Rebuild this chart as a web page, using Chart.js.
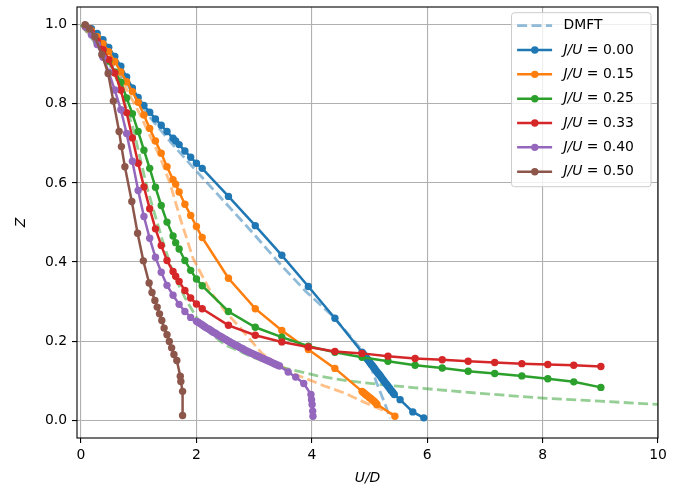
<!DOCTYPE html>
<html>
<head>
<meta charset="utf-8">
<script src="https://cdn.jsdelivr.net/npm/chart.js@4.4.0/dist/chart.umd.min.js"></script>
<style>
  body { margin: 0; background: #fff; }
</style>
</head>
<body>
<canvas id="graphCanvas" width="700" height="491"></canvas>
<script>
// values (x = U/D, y = Z)
var xTicks = [0, 2, 4, 6, 8, 10];
var yTicks = [0.0, 0.2, 0.4, 0.6, 0.8, 1.0];

var dmft0X = [0, 0.4, 0.8, 1.2, 1.6, 2.0, 2.5, 3.0, 3.45, 3.9, 4.37, 4.84, 5.0, 5.13, 5.25, 5.36];
var dmft0Z = [1.0, 0.925, 0.85, 0.765, 0.695, 0.63, 0.55, 0.47, 0.395, 0.325, 0.262, 0.182, 0.145, 0.092, 0.048, 0.005];

var dmft15X = [0, 0.5, 1.0, 1.37, 1.54, 1.72, 1.94, 2.24, 2.5, 2.78, 3.14, 3.66, 4.23, 4.58, 4.84, 5.2, 5.5];
var dmft15Z = [1.0, 0.915, 0.78, 0.665, 0.6, 0.51, 0.41, 0.326, 0.275, 0.23, 0.168, 0.119, 0.086, 0.068, 0.05, 0.027, 0.01];

var dmft25X = [0, 0.3, 0.6, 0.9, 1.15, 1.4, 1.6, 1.8, 2.0, 2.2, 2.5, 3.0, 3.5, 4.1, 4.6, 5.2, 5.8, 6.9, 8.0, 9.0, 10.0];
var dmft25Z = [1.0, 0.955, 0.87, 0.74, 0.585, 0.46, 0.37, 0.31, 0.26, 0.225, 0.19, 0.158, 0.133, 0.112, 0.1, 0.09, 0.082, 0.068, 0.056, 0.048, 0.040];

var j00X = [0.08, 0.18, 0.28, 0.38, 0.48, 0.585, 0.69, 0.79, 0.89, 0.99, 1.09, 1.19, 1.29, 1.39, 1.49, 1.595, 1.64, 1.70, 1.80, 1.90, 2.00, 2.10,
            2.555, 3.02, 3.48, 3.94, 4.40, 4.87,
            4.89, 4.91, 4.93, 4.95, 4.97, 4.99, 5.01, 5.03, 5.05, 5.07, 5.09, 5.11, 5.13, 5.15,
            5.17, 5.19, 5.21, 5.23, 5.25, 5.27, 5.29, 5.31, 5.33, 5.35, 5.37, 5.39, 5.41, 5.43,
            5.53, 5.75, 5.94];
var j00Z = [0.998, 0.99, 0.978, 0.962, 0.943, 0.92, 0.895, 0.868, 0.84, 0.816, 0.796, 0.779, 0.762, 0.746, 0.73, 0.713, 0.706, 0.697, 0.681, 0.665, 0.65, 0.637,
            0.566, 0.492, 0.417, 0.338, 0.258, 0.172,
            0.168, 0.164, 0.161, 0.157, 0.153, 0.149, 0.145, 0.141, 0.138, 0.134, 0.130, 0.126, 0.122, 0.118,
            0.115, 0.111, 0.107, 0.103, 0.099, 0.095, 0.092, 0.088, 0.084, 0.080, 0.076, 0.073, 0.069, 0.065,
            0.052, 0.021, 0.006];

var j15X = [0.08, 0.18, 0.28, 0.38, 0.48, 0.585, 0.69, 0.79, 0.89, 0.99, 1.09, 1.19, 1.29, 1.39, 1.49, 1.595, 1.64, 1.70, 1.80, 1.90, 2.00, 2.10,
            2.555, 3.02, 3.48, 3.94, 4.40, 4.87,
            4.89, 4.91, 4.93, 4.95, 4.97, 4.99, 5.01, 5.03, 5.05, 5.07, 5.09, 5.11, 5.13, 5.44];
var j15Z = [0.997, 0.985, 0.97, 0.952, 0.932, 0.907, 0.881, 0.856, 0.831, 0.804, 0.772, 0.738, 0.706, 0.675, 0.641, 0.608, 0.597, 0.577, 0.546, 0.518, 0.490, 0.462,
            0.359, 0.282, 0.227, 0.179, 0.131, 0.073,
            0.070, 0.068, 0.065, 0.063, 0.061, 0.058, 0.056, 0.054, 0.051, 0.049, 0.046, 0.043, 0.040, 0.010];

var j25X = [0.08, 0.18, 0.28, 0.38, 0.48, 0.585, 0.69, 0.79, 0.89, 0.99, 1.09, 1.19, 1.29, 1.39, 1.49, 1.595, 1.64, 1.70, 1.80, 1.90, 2.00, 2.10,
            2.555, 3.02, 3.48, 3.94, 4.40, 4.87, 5.32, 5.79, 6.26, 6.71, 7.17, 7.64, 8.09, 8.54, 9.01];
var j25Z = [0.995, 0.978, 0.955, 0.935, 0.908, 0.881, 0.855, 0.815, 0.775, 0.73, 0.683, 0.637, 0.589, 0.543, 0.501, 0.466, 0.449, 0.433, 0.404, 0.379, 0.357, 0.340,
            0.275, 0.235, 0.210, 0.187, 0.172, 0.159, 0.149, 0.139, 0.132, 0.124, 0.118, 0.112, 0.105, 0.097, 0.083];

var j33X = [0.08, 0.18, 0.28, 0.38, 0.48, 0.585, 0.69, 0.79, 0.89, 0.99, 1.09, 1.19, 1.29, 1.39, 1.49, 1.595, 1.64, 1.70, 1.80, 1.90, 2.00, 2.10,
            2.555, 3.02, 3.48, 3.94, 4.40, 4.87, 5.32, 5.79, 6.26, 6.71, 7.17, 7.64, 8.09, 8.54, 9.01];
var j33Z = [0.995, 0.98, 0.96, 0.937, 0.912, 0.878, 0.835, 0.778, 0.714, 0.65, 0.59, 0.535, 0.484, 0.442, 0.404, 0.376, 0.364, 0.351, 0.328, 0.309, 0.294, 0.282,
            0.240, 0.215, 0.198, 0.185, 0.174, 0.169, 0.162, 0.156, 0.153, 0.149, 0.146, 0.143, 0.141, 0.139, 0.136];

var j40X = [0.08, 0.18, 0.28, 0.38, 0.48, 0.585, 0.69, 0.79, 0.89, 0.99, 1.09, 1.19, 1.29, 1.39, 1.49, 1.595, 1.70, 1.80, 1.90, 2.00,
            2.03, 2.06, 2.09, 2.12, 2.15, 2.18, 2.21, 2.24, 2.27, 2.30, 2.33, 2.36, 2.39, 2.42, 2.45, 2.48,
            2.51, 2.54, 2.57, 2.60, 2.63, 2.66, 2.69, 2.72, 2.75, 2.78, 2.81, 2.84, 2.87, 2.90, 2.93, 2.96,
            2.99, 3.02, 3.05, 3.08, 3.11, 3.14, 3.17, 3.20, 3.23, 3.26, 3.29, 3.32, 3.35, 3.38, 3.41, 3.44,
            3.59, 3.72, 3.86, 3.985, 3.995, 4.005, 4.015, 4.02];
var j40Z = [0.995, 0.975, 0.95, 0.918, 0.88, 0.835, 0.785, 0.725, 0.655, 0.581, 0.515, 0.46, 0.412, 0.374, 0.341, 0.316, 0.293, 0.275, 0.26, 0.25,
            0.248, 0.245, 0.242, 0.239, 0.236, 0.233, 0.231, 0.228, 0.225, 0.222, 0.220, 0.217, 0.214, 0.212, 0.209, 0.206,
            0.204, 0.201, 0.199, 0.196, 0.194, 0.191, 0.189, 0.187, 0.184, 0.182, 0.180, 0.177, 0.175, 0.173, 0.171, 0.169,
            0.167, 0.165, 0.163, 0.161, 0.159, 0.157, 0.155, 0.153, 0.151, 0.149, 0.147, 0.145, 0.143, 0.141, 0.139, 0.137,
            0.122, 0.109, 0.093, 0.065, 0.052, 0.040, 0.023, 0.010];

var j50X = [0.07, 0.15, 0.24, 0.36, 0.47, 0.56, 0.66, 0.70, 0.76, 0.88, 0.98, 1.08, 1.18, 1.23, 1.28, 1.32, 1.36, 1.40, 1.44, 1.49, 1.53, 1.57, 1.61, 1.66, 1.72, 1.73, 1.76, 1.76];
var j50Z = [1.0, 0.99, 0.97, 0.925, 0.877, 0.807, 0.73, 0.692, 0.641, 0.553, 0.473, 0.403, 0.347, 0.323, 0.303, 0.286, 0.269, 0.252, 0.233, 0.216, 0.199, 0.183, 0.166, 0.151, 0.111, 0.098, 0.073, 0.012];

function pairs(xs, zs) {
    var out = [];
    for (var i in xs) {
        out.push({x: xs[i], y: zs[i]});
    }
    return out;
}

function dmftLine(xs, zs, color, label, order) {
    return {
        label: label,
        data: pairs(xs, zs),
        showLine: true,
        borderColor: color,
        borderWidth: 2.8,
        borderDash: [10, 4.4],
        pointRadius: 0,
        fill: false,
        order: order
    };
}

function gutzLine(xs, zs, color, label, order) {
    return {
        label: label,
        data: pairs(xs, zs),
        showLine: true,
        borderColor: color,
        backgroundColor: color,
        borderWidth: 2.5,
        pointRadius: 3.7,
        pointBorderWidth: 0,
        pointBackgroundColor: color,
        fill: false,
        order: order
    };
}

var datasets = [
    dmftLine(dmft0X, dmft0Z, 'rgba(31,119,180,0.5)', 'DMFT', 9),
    dmftLine(dmft15X, dmft15Z, 'rgba(255,127,14,0.5)', '', 8),
    dmftLine(dmft25X, dmft25Z, 'rgba(44,160,44,0.5)', '', 7),
    gutzLine(j00X, j00Z, '#1f77b4', 'J/U = 0.00', 6),
    gutzLine(j15X, j15Z, '#ff7f0e', 'J/U = 0.15', 5),
    gutzLine(j25X, j25Z, '#2ca02c', 'J/U = 0.25', 4),
    gutzLine(j33X, j33Z, '#d62728', 'J/U = 0.33', 3),
    gutzLine(j40X, j40Z, '#9467bd', 'J/U = 0.40', 2),
    gutzLine(j50X, j50Z, '#8c564b', 'J/U = 0.50', 1)
];

// spines + matplotlib-like legend inside the axes
var frameAndLegend = {
    id: 'frameAndLegend',
    afterDraw: function (chart) {
        var ctx = chart.ctx;
        var a = chart.chartArea;
        ctx.save();
        ctx.strokeStyle = '#000';
        ctx.lineWidth = 1.1;
        ctx.strokeRect(a.left, a.top, a.right - a.left, a.bottom - a.top);

        var items = chart.data.datasets.filter(function (d) { return d.label; });
        var w = 139.5, rowH = 24.33;
        var bx = a.right - 7 - w, by = a.top + 5.7;
        var h = 174;
        ctx.beginPath();
        ctx.roundRect(bx, by, w, h, 3);
        ctx.fillStyle = 'rgba(255,255,255,0.8)';
        ctx.fill();
        ctx.strokeStyle = '#cccccc';
        ctx.lineWidth = 1;
        ctx.stroke();

        ctx.textBaseline = 'middle';
        items.forEach(function (d, i) {
            var cy = by + 13 + i * rowH;
            ctx.beginPath();
            ctx.strokeStyle = d.borderColor;
            ctx.lineWidth = d.borderWidth;
            ctx.setLineDash(d.borderDash || []);
            ctx.moveTo(bx + 5.6, cy);
            ctx.lineTo(bx + 40.6, cy);
            ctx.stroke();
            ctx.setLineDash([]);
            if (d.pointRadius) {
                ctx.beginPath();
                ctx.fillStyle = d.borderColor;
                ctx.arc(bx + 23.3, cy, d.pointRadius, 0, Math.PI * 2);
                ctx.fill();
            }
            ctx.fillStyle = '#000';
            var tx = bx + 52;
            if (d.label.indexOf('J/U') === 0) {
                ctx.font = 'italic 13.9px "DejaVu Sans"';
                ctx.fillText('J/U', tx, cy);
                tx += ctx.measureText('J/U').width;
                ctx.font = '13.9px "DejaVu Sans"';
                ctx.fillText(d.label.substring(3), tx, cy);
            } else {
                ctx.font = '13.9px "DejaVu Sans"';
                ctx.fillText(d.label, tx, cy);
            }
        });
        ctx.restore();
    }
};

Chart.defaults.font.family = '"DejaVu Sans"';
Chart.defaults.font.size = 13.9;
Chart.defaults.color = '#000';

var graphTarget = document.getElementById('graphCanvas');
var chart = new Chart(graphTarget, {
    type: 'scatter',
    data: { datasets: datasets },
    plugins: [frameAndLegend],
    options: {
        responsive: false,
        animation: false,
        devicePixelRatio: 1,
        layout: { padding: { top: 7, right: 42, left: 0, bottom: 0 } },
        plugins: {
            legend: { display: false },
            tooltip: { enabled: false }
        },
        scales: {
            x: {
                type: 'linear',
                min: -0.07,
                max: 10,
                afterBuildTicks: function (scale) {
                    scale.ticks = xTicks.map(function (v) { return {value: v}; });
                },
                afterFit: function (scale) {
                    scale.height = 53;
                    scale.paddingLeft = 0;
                    scale.paddingRight = 0;
                },
                ticks: {
                    padding: 4,
                    maxRotation: 0,
                    callback: function (v) { return String(v); }
                },
                grid: { color: '#b0b0b0', lineWidth: 1.1, tickLength: 5, tickColor: '#000', tickWidth: 1.1 },
                border: { display: false },
                title: {
                    display: true,
                    text: 'U/D',
                    font: { style: 'italic', size: 13.9 },
                    padding: { top: 0, bottom: 4 }
                }
            },
            y: {
                type: 'linear',
                min: -0.045,
                max: 1.045,
                afterBuildTicks: function (scale) {
                    scale.ticks = yTicks.map(function (v) { return {value: v}; });
                },
                afterFit: function (scale) {
                    scale.width = 77;
                    scale.paddingTop = 0;
                    scale.paddingBottom = 0;
                },
                ticks: {
                    padding: 5,
                    callback: function (v) { return v.toFixed(1); }
                },
                grid: { color: '#b0b0b0', lineWidth: 1.1, tickLength: 5, tickColor: '#000', tickWidth: 1.1 },
                border: { display: false },
                title: {
                    display: true,
                    text: 'Z',
                    font: { style: 'italic', size: 13.9 },
                    padding: { top: 13, bottom: 0 }
                }
            }
        }
    }
});
</script>
</body>
</html>
